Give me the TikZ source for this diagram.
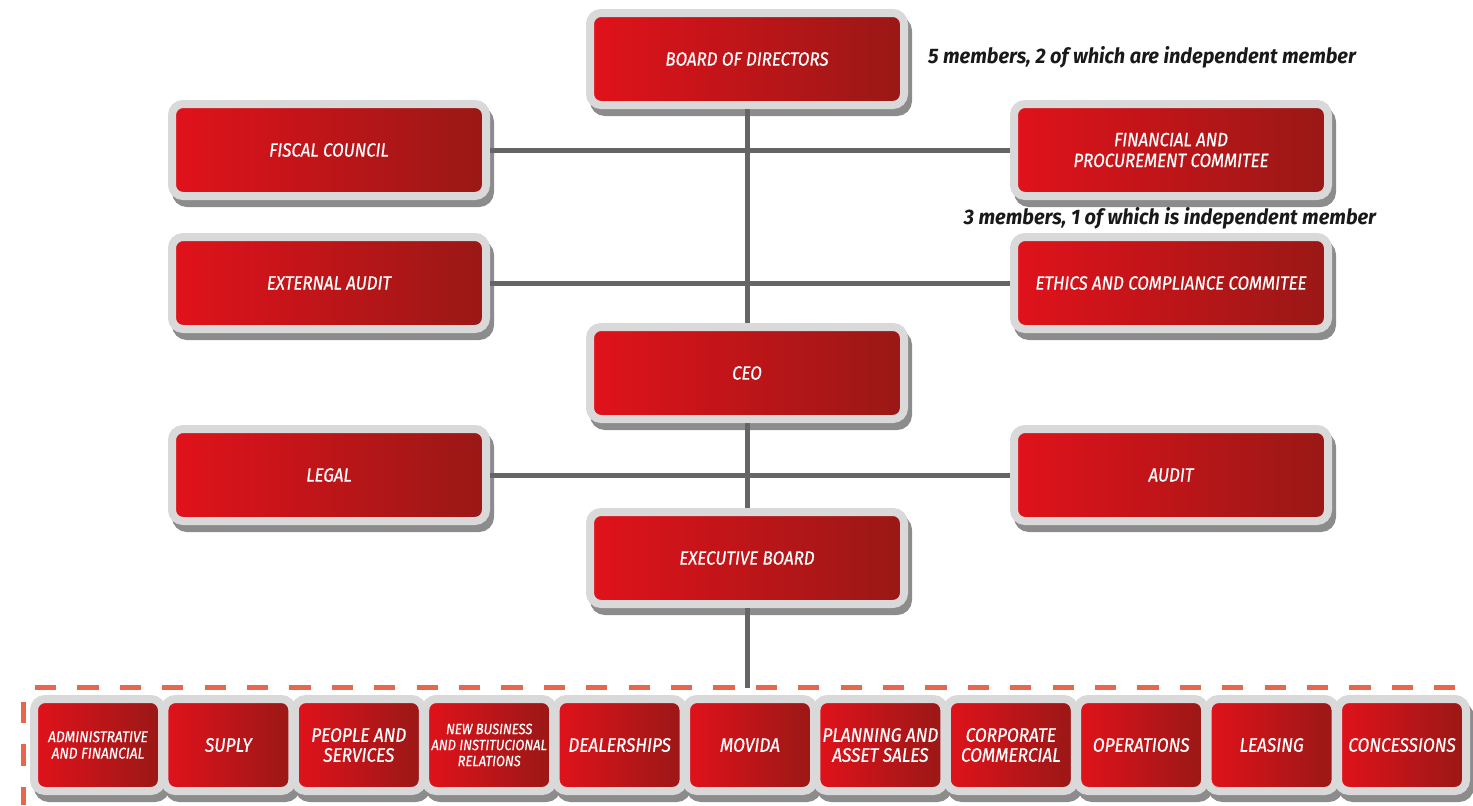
\documentclass[tikz,border=0pt]{standalone}
\usepackage{fontspec}
\newfontfamily\boxfont{Fira Sans}[FakeStretch=0.88, FakeBold=0.6]
\newfontfamily\notefont{Fira Sans}[FakeStretch=0.95]
\usetikzlibrary{positioning}
\definecolor{boxred}{HTML}{E1121B}
\definecolor{boxdark}{HTML}{991816}
\definecolor{rimgray}{HTML}{D9D9D9}
\definecolor{shadegray}{HTML}{8C8C8C}
\definecolor{linkgray}{HTML}{656565}
\definecolor{framered}{HTML}{E8664E}

\begin{document}
\begin{tikzpicture}[x=0.5pt, y=-0.5pt,
  redbox/.style={rounded corners=5.5pt, left color=boxred, right color=boxdark, draw=rimgray, line width=4pt,
    text=white, align=center, inner sep=0pt,
    preaction={draw=shadegray, fill=shadegray, line width=4pt, transform canvas={shift={(2pt,-3.5pt)}}}},
  mainbox/.style={redbox, minimum width=157pt, minimum height=46pt, font=\boxfont\itshape\fontsize{9.6}{10.4}\selectfont},
  unitbox/.style={redbox, minimum width=64pt, minimum height=46pt},
  note/.style={font=\notefont\bfseries\itshape\fontsize{10.5}{12}\selectfont, text=black!90},
  link/.style={draw=linkgray, line width=2.5pt},
  frame/.style={draw=framered, line width=2.5pt, dash pattern=on 10.6pt off 10.6pt}]
  \useasboundingbox (0,0) rectangle (1473,805);

  \node[mainbox] (board) at (747,59) {BOARD OF DIRECTORS};
  \node[mainbox] (fiscal) at (329,150) {FISCAL COUNCIL};
  \node[mainbox] (financial) at (1171,150) {FINANCIAL AND\\PROCUREMENT COMMITEE};
  \node[mainbox] (extaudit) at (329,283) {EXTERNAL AUDIT};
  \node[mainbox] (ethics) at (1171,283) {ETHICS AND COMPLIANCE COMMITEE};
  \node[mainbox] (ceo) at (747,373) {CEO};
  \node[mainbox] (legal) at (329,475) {LEGAL};
  \node[mainbox] (audit) at (1171,475) {AUDIT};
  \node[mainbox] (exec) at (747,558) {EXECUTIVE BOARD};

  \node[note] (boardnote) at (1142,57) {5 members, 2 of which are independent member};
  \node[note] (finnote) at (1170,218) {3 members, 1 of which is independent member};

  \foreach \i/\sz/\lh/\txt in {1/7.8/8.2/{ADMINISTRATIVE\\AND FINANCIAL}, 2/9.8/10/{SUPLY}, 3/9.8/10/{PEOPLE AND\\SERVICES},
      4/7.4/8/{NEW BUSINESS\\AND INSTITUCIONAL\\RELATIONS}, 5/9.8/10/{DEALERSHIPS}, 6/9.8/10/{MOVIDA},
      7/9.8/10/{PLANNING AND\\ASSET SALES}, 8/9.8/10/{CORPORATE\\COMMERCIAL}, 9/9.8/10/{OPERATIONS},
      10/9.8/10/{LEASING}, 11/9.8/10/{CONCESSIONS}}
    \node[unitbox, font=\boxfont\itshape\fontsize{\sz}{\lh}\selectfont] (unit\i) at ({98+130.4*(\i-1)},745) {\txt};

  \coordinate (spineend) at (747,688);
  \draw[link] (board) -- (ceo);
  \draw[link] (ceo) -- (exec);
  \draw[link] (exec) -- (spineend);
  \draw[link] (fiscal) -- (financial);
  \draw[link] (extaudit) -- (ethics);
  \draw[link] (legal) -- (audit);

  \draw[frame] (35,687) -- (1473,687);
  \draw[frame] (23,702) -- (23,805);
\end{tikzpicture}
\end{document}
